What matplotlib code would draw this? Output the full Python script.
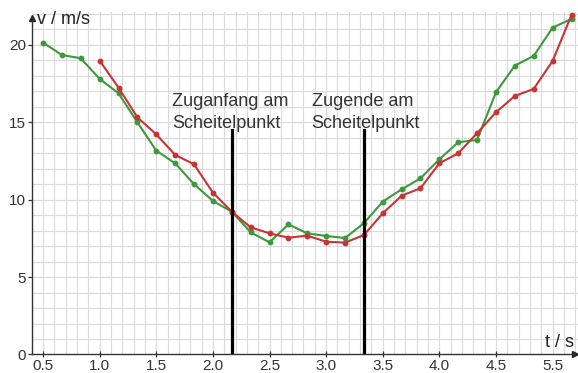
"""Speed of a roller coaster train passing the vertex (Scheitelpunkt)."""

import matplotlib

matplotlib.use("Agg")

import matplotlib.pyplot as plt

plt.rcParams["font.family"] = ["Liberation Sans", "DejaVu Sans"]

# time in s, one reading every sixth of a second
t_green = [0.5, 0.667, 0.833, 1.0, 1.167, 1.333, 1.5, 1.667, 1.833, 2.0,
           2.167, 2.333, 2.5, 2.667, 2.833, 3.0, 3.167, 3.333, 3.5, 3.667,
           3.833, 4.0, 4.167, 4.333, 4.5, 4.667, 4.833, 5.0, 5.167]
v_green = [20.13, 19.33, 19.12, 17.79, 16.86, 14.99, 13.16, 12.34, 11.0, 9.91,
           9.22, 7.89, 7.24, 8.40, 7.82, 7.65, 7.52, 8.47, 9.87, 10.66,
           11.37, 12.6, 13.7, 13.85, 16.93, 18.65, 19.27, 21.1, 21.66]

t_red = [1.0, 1.167, 1.333, 1.5, 1.667, 1.833, 2.0, 2.167, 2.333, 2.5,
         2.667, 2.833, 3.0, 3.167, 3.333, 3.5, 3.667, 3.833, 4.0, 4.167,
         4.333, 4.5, 4.667, 4.833, 5.0, 5.167]
v_red = [18.97, 17.22, 15.31, 14.21, 12.88, 12.28, 10.45, 9.22, 8.21, 7.82,
         7.54, 7.67, 7.28, 7.22, 7.71, 9.11, 10.25, 10.73, 12.34, 12.99,
         14.28, 15.64, 16.69, 17.14, 18.95, 21.92]

# train entering / leaving the vertex
t_marks = [2.165, 3.33]
mark_labels = ["Zuganfang am\nScheitelpunkt", "Zugende am\nScheitelpunkt"]
label_t = [1.637, 2.871]

x_ticks = [0.5, 1.0, 1.5, 2.0, 2.5, 3.0, 3.5, 4.0, 4.5, 5.0]
x_ticklabels = ["0.5", "1.0", "1.5", "2.0", "2.5", "3.0", "3.5", "4.0", "4.5", "5.5"]
y_ticks = [0, 5, 10, 15, 20]

XMIN, XMAX = 0.4, 5.224
YMIN, YMAX = 0, 22.1

fig = plt.figure(figsize=(5.78, 3.73), dpi=100)
ax = fig.add_axes([0.0548, 0.0496, 0.9452, 0.918])
ax.set_xlim(XMIN, XMAX)
ax.set_ylim(YMIN, YMAX)

# millimetre-paper style grid
grid_kw = dict(color="#dadada", linewidth=0.8, zorder=0)
for i in range(1, 49):
    ax.plot([XMIN + i * 0.1] * 2, [0, YMAX], **grid_kw)
for j in range(1, 23):
    ax.plot([XMIN, XMAX], [j, j], **grid_kw)

ax.plot(t_green, v_green, color="#3c9a3c", linewidth=1.5, marker="o",
        markersize=3.2, zorder=3)
ax.plot(t_red, v_red, color="#c83434", linewidth=1.5, marker="o",
        markersize=3.2, zorder=3)

for tm, lab, lt in zip(t_marks, mark_labels, label_t):
    ax.plot([tm, tm], [0, 14.5], color="black", linewidth=2.3, zorder=4)
    ax.text(lt, 16.85, lab, fontsize=13, color="#333333", va="top",
            ha="left", linespacing=1.32, zorder=5)

# axes drawn as arrows
for side in ["top", "right", "left", "bottom"]:
    ax.spines[side].set_visible(False)
ax.plot([XMIN, XMIN], [0, 21.7], color="#333333", linewidth=1.0, zorder=4,
        clip_on=False)
ax.plot([XMIN, XMAX - 0.03], [0, 0], color="#333333", linewidth=1.0, zorder=4,
        clip_on=False)
ax.plot(XMIN, 21.7, marker="^", color="#222222", markersize=5, clip_on=False)
ax.plot(XMAX - 0.03, 0, marker=">", color="#222222", markersize=5, clip_on=False)

ax.text(0.447, 21.65, "v / m/s", fontsize=13, color="#222222", va="center")
ax.text(4.932, 0.78, "t / s", fontsize=13, color="#222222", va="center")

ax.set_xticks(x_ticks)
ax.set_xticklabels(x_ticklabels)
ax.set_yticks(y_ticks)
ax.tick_params(axis="x", direction="inout", length=5, width=0.9,
               color="#333333", labelsize=11, labelcolor="#333333", pad=1)
ax.tick_params(axis="y", direction="out", length=3, width=0.9,
               color="#333333", labelsize=11, labelcolor="#333333", pad=1)
ax.xaxis.get_major_ticks()[-1].tick1line.set_visible(False)

fig.savefig("out.png", dpi=100)
plt.close(fig)
